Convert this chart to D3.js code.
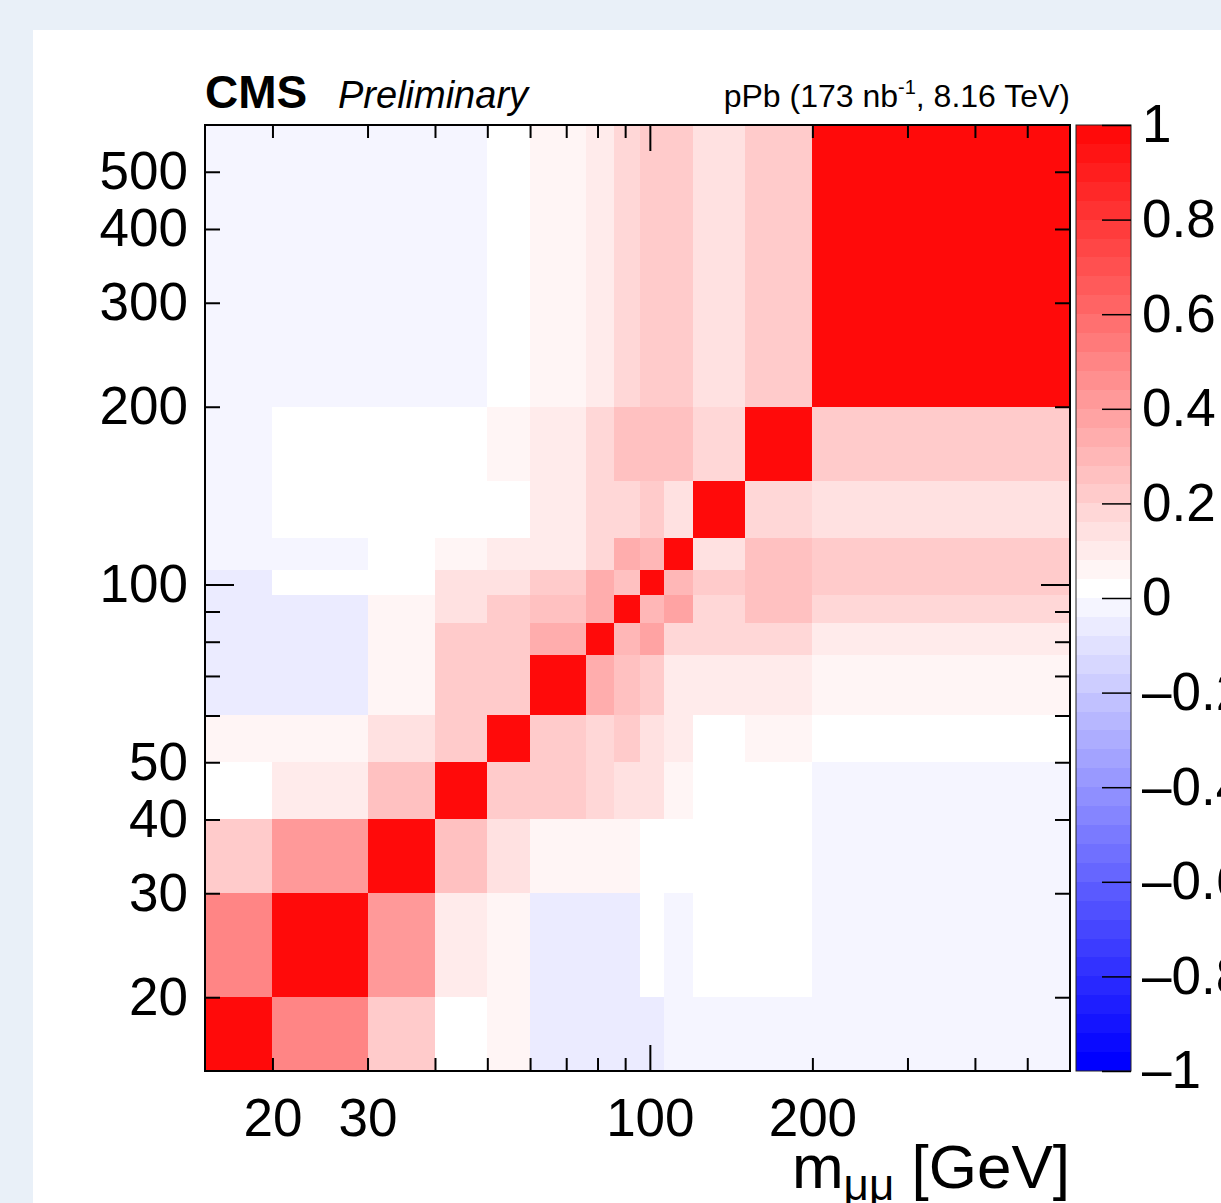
<!DOCTYPE html>
<html>
<head>
<meta charset="utf-8">
<script src="https://cdn.jsdelivr.net/npm/d3@7"></script>
<style>
  body { margin: 0; background: #e9f0f8; }
  svg { display: block; }
  text { font-family: "Liberation Sans", Arial, Helvetica, sans-serif; fill: #000; }
</style>
</head>
<body>
<script>
// dimuon mass bin edges [GeV], same binning on both axes
let massEdges = [15, 20, 30, 40, 50, 60, 76, 86, 96, 106, 120, 150, 200, 600];

// correlation coefficients, one row per y bin (lowest mass first), one value per x bin
let corrRows = [
  [ 1.00,  0.50,  0.22,  0.01,  0.06, -0.06, -0.06, -0.06, -0.06, -0.02, -0.02, -0.02, -0.02],
  [ 0.50,  1.00,  0.42,  0.10,  0.06, -0.06, -0.06, -0.06,  0.01, -0.02,  0.01,  0.01, -0.02],
  [ 0.22,  0.42,  1.00,  0.26,  0.14,  0.06,  0.06,  0.06,  0.01,  0.01,  0.01,  0.01, -0.02],
  [ 0.01,  0.10,  0.26,  1.00,  0.22,  0.22,  0.18,  0.14,  0.14,  0.06,  0.01,  0.01, -0.02],
  [ 0.06,  0.06,  0.14,  0.22,  1.00,  0.22,  0.18,  0.22,  0.14,  0.10,  0.01,  0.06,  0.01],
  [-0.06, -0.06,  0.06,  0.22,  0.22,  1.00,  0.34,  0.26,  0.22,  0.10,  0.10,  0.10,  0.06],
  [-0.06, -0.06,  0.06,  0.22,  0.22,  0.34,  1.00,  0.30,  0.36,  0.18,  0.18,  0.18,  0.10],
  [-0.06, -0.06,  0.06,  0.14,  0.22,  0.26,  0.34,  1.00,  0.30,  0.38,  0.18,  0.26,  0.18],
  [-0.06,  0.01,  0.01,  0.14,  0.14,  0.22,  0.34,  0.26,  1.00,  0.30,  0.22,  0.26,  0.22],
  [-0.02, -0.02,  0.01,  0.06,  0.10,  0.10,  0.18,  0.34,  0.30,  1.00,  0.14,  0.26,  0.22],
  [-0.02,  0.01,  0.01,  0.01,  0.01,  0.10,  0.18,  0.18,  0.22,  0.14,  1.00,  0.18,  0.14],
  [-0.02,  0.01,  0.01,  0.01,  0.06,  0.10,  0.18,  0.26,  0.26,  0.26,  0.18,  1.00,  0.22],
  [-0.02, -0.02, -0.02, -0.02,  0.01,  0.06,  0.10,  0.18,  0.22,  0.22,  0.14,  0.22,  1.00]
];

let massTicks = [20, 30, 40, 50, 60, 70, 80, 90, 100, 200, 300, 400, 500];
let xTickLabels = [20, 30, 100, 200];
let yTickLabels = [20, 30, 40, 50, 100, 200, 300, 400, 500];
let zTicks = [-1, -0.8, -0.6, -0.4, -0.2, 0, 0.2, 0.4, 0.6, 0.8, 1];
let nLevels = 50;

let width = 1221, height = 1203;
let plot = {left: 205, right: 1070, top: 125, bottom: 1071};
let bar = {left: 1076, right: 1131};

let svg = d3.select("body")
            .append("svg")
            .attr("width", width)
            .attr("height", height);

// white pad on the light blue page
svg.append("rect")
    .attr("x", 33).attr("y", 30)
    .attr("width", width - 33).attr("height", height - 30)
    .attr("fill", "#fff");

let xScale = d3.scaleLog().domain([15, 600]).range([plot.left, plot.right]);
let yScale = d3.scaleLog().domain([15, 600]).range([plot.bottom, plot.top]);
let zScale = d3.scaleLinear().domain([-1, 1]).range([plot.bottom, plot.top]);

// blue - white - red palette, cut into 50 contour levels like ROOT does
let ramp = d3.piecewise(d3.interpolateRgb, ["#0000ff", "#ffffff", "#ff0000"]);
let levelColors = d3.range(nLevels).map(k => ramp(Math.floor(k * 255 / nLevels) / 254));
let color = d3.scaleQuantize().domain([-1, 1]).range(levelColors);

let cells = [];
corrRows.forEach((row, j) => {
    row.forEach((v, i) => cells.push({i: i, j: j, v: v}));
});

svg.append("g")
    .attr("shape-rendering", "crispEdges")
    .selectAll("rect")
    .data(cells)
    .enter()
    .append("rect")
        .attr("x", d => xScale(massEdges[d.i]))
        .attr("y", d => yScale(massEdges[d.j + 1]))
        .attr("width", d => xScale(massEdges[d.i + 1]) - xScale(massEdges[d.i]))
        .attr("height", d => yScale(massEdges[d.j]) - yScale(massEdges[d.j + 1]))
        .attr("fill", d => color(Math.min(d.v, 0.999)));

// axes, ticks pointing inward, decade ticks longer
function styleAxis(g, len, bigLen, horizontal) {
    g.attr("font-family", null).attr("font-size", null);
    g.select(".domain").remove();
    g.selectAll(".tick line")
        .attr("stroke", "#000")
        .attr("stroke-width", 2)
        .attr(horizontal ? "y2" : "x2", d => d === 100 ? bigLen : len);
    g.selectAll(".tick text").style("font-size", "53px");
}

svg.append("g")
    .attr("transform", `translate(0,${plot.bottom})`)
    .call(d3.axisBottom(xScale).tickValues(massTicks).tickSizeOuter(0).tickPadding(21)
        .tickFormat(d => xTickLabels.includes(d) ? d : ""))
    .call(g => styleAxis(g, -13, -26, true));

svg.append("g")
    .attr("transform", `translate(0,${plot.top})`)
    .call(d3.axisTop(xScale).tickValues(massTicks).tickSizeOuter(0).tickFormat(""))
    .call(g => styleAxis(g, 13, 26, true));

svg.append("g")
    .attr("transform", `translate(${plot.left},0)`)
    .call(d3.axisLeft(yScale).tickValues(massTicks).tickSizeOuter(0).tickPadding(11)
        .tickFormat(d => yTickLabels.includes(d) ? d : ""))
    .call(g => styleAxis(g, 15, 29, false));

svg.append("g")
    .attr("transform", `translate(${plot.right},0)`)
    .call(d3.axisRight(yScale).tickValues(massTicks).tickSizeOuter(0).tickFormat(""))
    .call(g => styleAxis(g, -15, -29, false));

svg.append("rect")
    .attr("x", plot.left).attr("y", plot.top)
    .attr("width", plot.right - plot.left).attr("height", plot.bottom - plot.top)
    .attr("fill", "none").attr("stroke", "#000").attr("stroke-width", 2);

// colour bar
let step = 2 / nLevels;
svg.append("g")
    .attr("shape-rendering", "crispEdges")
    .selectAll("rect")
    .data(levelColors)
    .enter()
    .append("rect")
        .attr("x", bar.left)
        .attr("width", bar.right - bar.left)
        .attr("y", (c, k) => zScale(-1 + (k + 1) * step))
        .attr("height", (c, k) => zScale(-1 + k * step) - zScale(-1 + (k + 1) * step))
        .attr("fill", c => c);

svg.append("rect")
    .attr("x", bar.left).attr("y", plot.top)
    .attr("width", bar.right - bar.left).attr("height", plot.bottom - plot.top)
    .attr("fill", "none").attr("stroke", "#222").attr("stroke-width", 1);

svg.append("g")
    .attr("transform", `translate(${bar.right},0)`)
    .call(d3.axisRight(zScale).tickValues(zTicks).tickSizeInner(-29).tickSizeOuter(0).tickPadding(11)
        .tickFormat(d => (d < 0 ? "\u2013" : "") + Math.abs(d)))
    .call(g => {
        g.attr("font-family", null).attr("font-size", null);
        g.select(".domain").remove();
        g.selectAll(".tick line").attr("stroke", "#000").attr("stroke-width", 1.5);
        g.selectAll(".tick text").style("font-size", "53px");
    });

// labels
svg.append("text")
    .attr("x", plot.left).attr("y", 108)
    .style("font-size", "46px").style("font-weight", "bold")
    .text("CMS");

svg.append("text")
    .attr("x", 338).attr("y", 108)
    .style("font-size", "38px").style("font-style", "italic")
    .text("Preliminary");

let lumi = svg.append("text")
    .attr("x", plot.right).attr("y", 107)
    .attr("text-anchor", "end")
    .style("font-size", "32px");
lumi.append("tspan").text("pPb (173 nb");
lumi.append("tspan").attr("dy", -13).style("font-size", "20px").text("-1");
lumi.append("tspan").attr("dy", 13).text(", 8.16 TeV)");

let xTitle = svg.append("text")
    .attr("x", plot.right).attr("y", 1188)
    .attr("text-anchor", "end")
    .style("font-size", "62px");
xTitle.append("tspan").text("m");
xTitle.append("tspan").attr("dy", 12).style("font-size", "44px").text("\u03bc\u03bc");
xTitle.append("tspan").attr("dy", -12).text(" [GeV]");
</script>
</body>
</html>
